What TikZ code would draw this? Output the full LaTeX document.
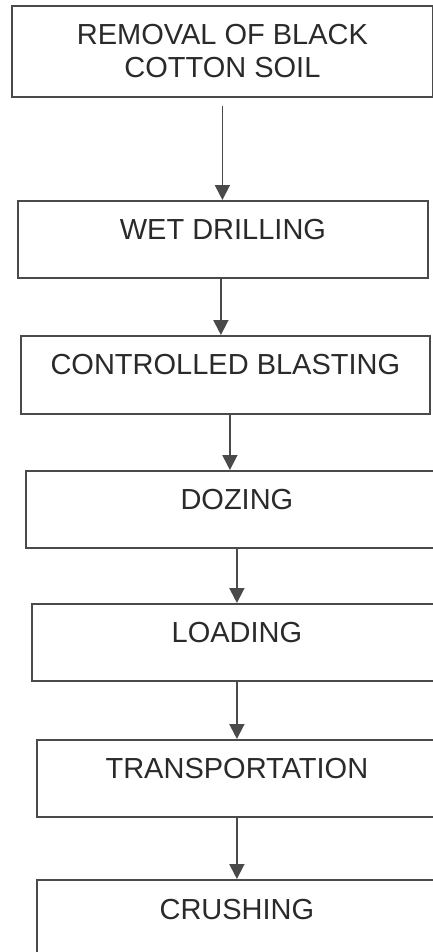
\documentclass[tikz,border=0pt]{standalone}
\usepackage{fontspec}
\setmainfont{Liberation Sans}
\usetikzlibrary{arrows.meta}
\definecolor{linegray}{HTML}{4A4A4A}
\definecolor{textgray}{HTML}{2A2A2A}

\begin{document}
\begin{tikzpicture}[x=1pt,y=-1pt,
        stepbox/.style={draw=linegray,line width=1.8pt,text=textgray,anchor=north west,
            align=center,inner sep=0pt,font=\fontsize{29}{33}\selectfont},
        toptext/.style={text height=20pt,text depth=20pt},
        flow/.style={draw=linegray,line width=1.8pt,-{Triangle[width=15pt,length=15pt]}}]
    \useasboundingbox (0,0) rectangle (433,952);
    \clip (0,0) rectangle (433,952);
    \node[stepbox,minimum width=421pt,minimum height=91pt] (soil) at (11,5) {REMOVAL OF BLACK\\COTTON SOIL};
    \node[stepbox,toptext,minimum width=410pt,minimum height=77pt] (drill) at (17,200) {WET DRILLING};
    \node[stepbox,toptext,minimum width=409pt,minimum height=78pt] (blast) at (20,335) {CONTROLLED BLASTING};
    \node[stepbox,toptext,minimum width=422pt,minimum height=77pt] (doze) at (25,470) {DOZING};
    \node[stepbox,toptext,minimum width=410pt,minimum height=77pt] (load) at (31,603) {LOADING};
    \node[stepbox,toptext,minimum width=400pt,minimum height=77pt] (transport) at (36,739) {TRANSPORTATION};
    \node[stepbox,toptext,minimum width=400pt,minimum height=80pt] (crush) at (36,879) {CRUSHING};
    \draw[flow] ([yshift=-8pt]soil.south) -- (soil.south |- drill.north);
    \draw[flow] ([xshift=-2pt]drill.south) -- ([xshift=-2pt]drill.south |- blast.north);
    \draw[flow] ([xshift=4.5pt]blast.south) -- ([xshift=4.5pt]blast.south |- doze.north);
    \draw[flow] (load.north |- doze.south) -- (load.north);
    \draw[flow] (load.south) -- (transport.north);
    \draw[flow] (transport.south) -- (crush.north);
\end{tikzpicture}
\end{document}
